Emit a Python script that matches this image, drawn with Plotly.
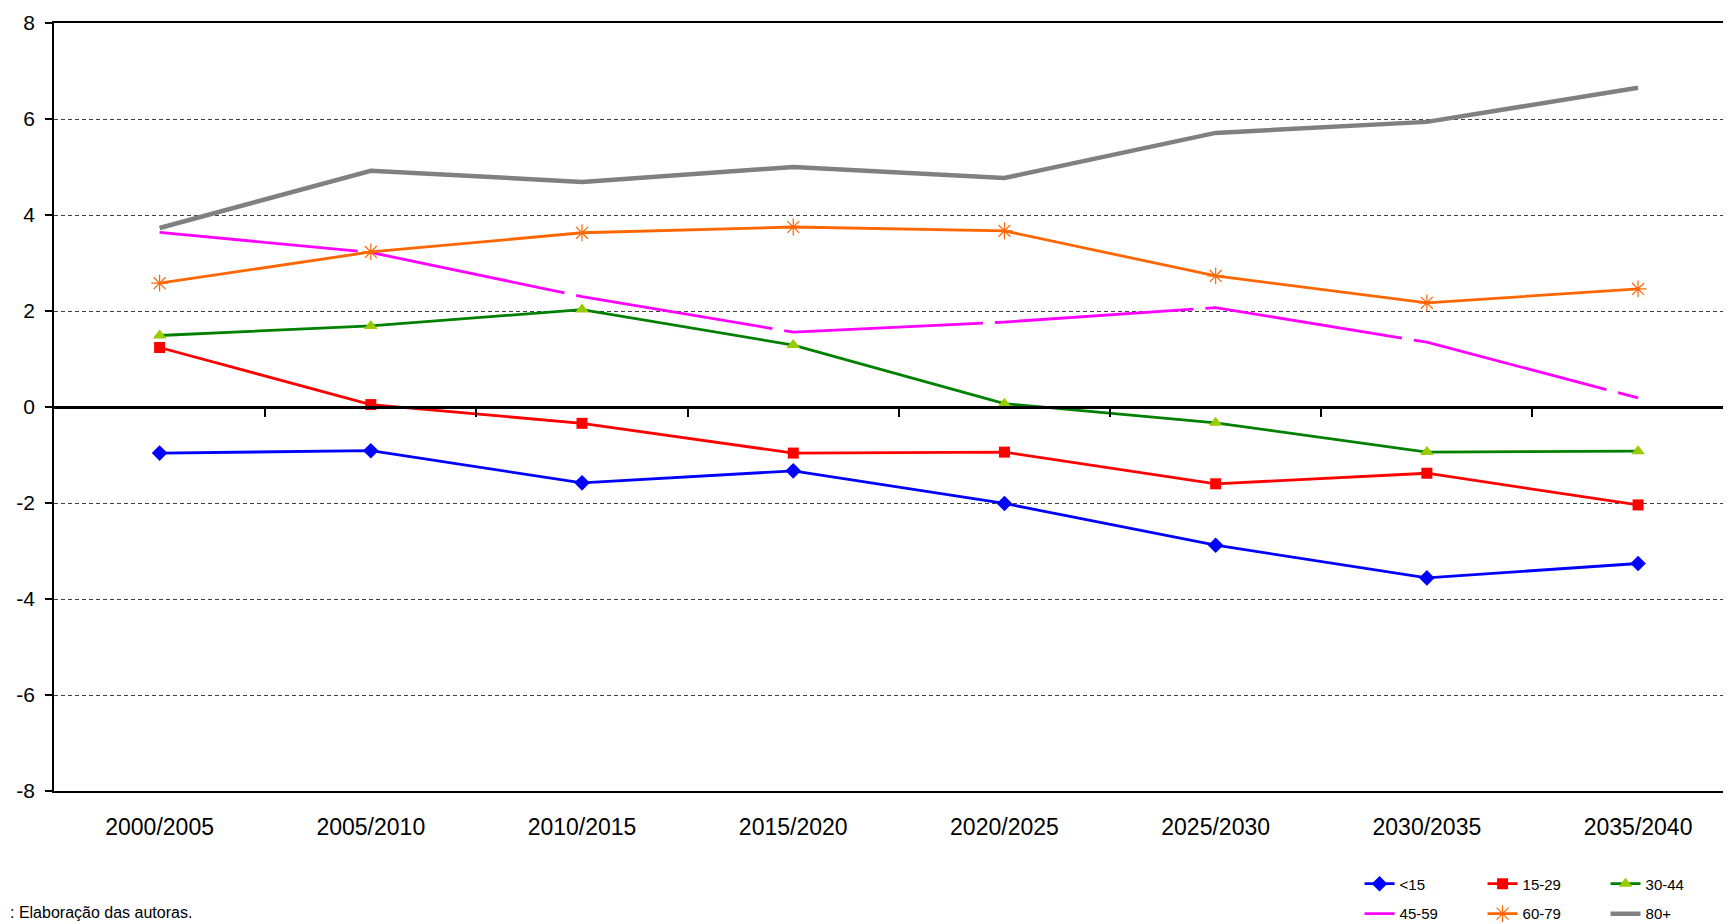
import plotly.graph_objects as go

# periods and growth rates by age group
periods = ["2000/2005", "2005/2010", "2010/2015", "2015/2020",
           "2020/2025", "2025/2030", "2030/2035", "2035/2040"]

age_under_15 = [-0.96, -0.91, -1.58, -1.33, -2.01, -2.88, -3.56, -3.26]
age_15_29 = [1.24, 0.05, -0.34, -0.96, -0.94, -1.60, -1.38, -2.04]
age_30_44 = [1.49, 1.69, 2.03, 1.29, 0.07, -0.33, -0.94, -0.92]
age_45_59 = [3.64, 3.22, 2.30, 1.56, 1.77, 2.07, 1.35, 0.19]
age_60_79 = [2.58, 3.23, 3.63, 3.75, 3.67, 2.73, 2.17, 2.46]
age_80_plus = [3.73, 4.92, 4.69, 5.00, 4.77, 5.71, 5.94, 6.65]

series_names = ["<15", "15-29", "30-44", "45-59", "60-79", "80+"]
y_ticks = [-8, -6, -4, -2, 0, 2, 4, 6, 8]
y_tick_labels = ["-8", "-6", "-4", "-2", "0", "2", "4", "6", "8"]
source_text = ": Elaboração das autoras."

FONT = "Liberation Sans, Arial, sans-serif"
# the original chart runs past the right edge of the picture
X_RANGE = [-0.5, 7.44]

fig = go.Figure()

fig.add_trace(go.Scatter(
    x=periods, y=age_under_15, name=series_names[0],
    mode="lines+markers",
    line={"color": "#0000FF", "width": 2.8},
    marker={"symbol": "diamond", "size": 12, "color": "#0000FF"},
    legend="legend"
))
fig.add_trace(go.Scatter(
    x=periods, y=age_15_29, name=series_names[1],
    mode="lines+markers",
    line={"color": "#FF0000", "width": 2.8},
    marker={"symbol": "square", "size": 11, "color": "#FF0000"},
    legend="legend"
))
fig.add_trace(go.Scatter(
    x=periods, y=age_30_44, name=series_names[2],
    mode="lines+markers",
    line={"color": "#008000", "width": 2.8},
    marker={"symbol": "triangle-up", "size": 12, "color": "#99CC00"},
    legend="legend"
))
fig.add_trace(go.Scatter(
    x=periods, y=age_45_59, name=series_names[3],
    mode="lines",
    line={"color": "#FF00FF", "width": 2.8, "dash": "199px,12px"},
    legend="legend2"
))
fig.add_trace(go.Scatter(
    x=periods, y=age_60_79, name=series_names[4],
    mode="lines+markers",
    line={"color": "#FF6600", "width": 2.8},
    marker={"symbol": "asterisk-open", "size": 14,
            "line": {"color": "#FF6600", "width": 1.2}},
    legend="legend2"
))
fig.add_trace(go.Scatter(
    x=periods, y=age_80_plus, name=series_names[5],
    mode="lines",
    line={"color": "#808080", "width": 4.5},
    legend="legend2"
))

# empty trace so the zero-line axis (x2) gets drawn
fig.add_trace(go.Scatter(
    x=[], y=[], xaxis="x2", yaxis="y",
    showlegend=False, hoverinfo="skip"
))

legend_common = {
    "orientation": "h",
    "font": {"family": FONT, "size": 15, "color": "black"},
    "bgcolor": "rgba(0,0,0,0)",
    "xanchor": "left",
    "yanchor": "middle",
    "entrywidth": 78,
    "itemwidth": 30,
    "tracegroupgap": 0,
}

# page body has an 8px margin, so the figure is a bit smaller than the window
fig.update_layout(
    width=1723,
    height=916,
    paper_bgcolor="white",
    plot_bgcolor="white",
    margin={"l": 46, "r": 0, "t": 15, "b": 133, "autoexpand": False},
    font={"family": FONT, "color": "black"},
    legend={**legend_common, "x": 0.7785, "y": -0.121},
    legend2={**legend_common, "x": 0.7785, "y": -0.160},
    xaxis={
        "type": "category",
        "range": X_RANGE,
        "showgrid": False,
        "ticks": "",
        "tickfont": {"family": FONT, "size": 23, "color": "black"},
        "ticklabelstandoff": 15,
        "showline": True,
        "linecolor": "black",
        "linewidth": 1.5,
        "mirror": True,
        "automargin": False,
    },
    xaxis2={
        "overlaying": "x",
        "anchor": "free",
        "position": 0.5,
        "side": "bottom",
        "range": X_RANGE,
        "tickvals": [0.5, 1.5, 2.5, 3.5, 4.5, 5.5, 6.5],
        "ticks": "outside",
        "ticklen": 8,
        "tickwidth": 2,
        "tickcolor": "black",
        "showticklabels": False,
        "showgrid": False,
        "zeroline": False,
        "showline": True,
        "linecolor": "black",
        "linewidth": 2.5,
        "automargin": False,
    },
    yaxis={
        "range": [-8, 8],
        "tickvals": y_ticks,
        "ticktext": y_tick_labels,
        "ticks": "outside",
        "ticklen": 7,
        "tickwidth": 1.5,
        "tickcolor": "black",
        "tickfont": {"family": FONT, "size": 21, "color": "black"},
        "ticklabelstandoff": 6,
        "showline": True,
        "linecolor": "black",
        "linewidth": 1.5,
        "showgrid": True,
        "gridcolor": "#404040",
        "gridwidth": 1.2,
        "griddash": "4px,3px",
        "zeroline": False,
        "automargin": False,
    },
    annotations=[{
        "text": source_text,
        "xref": "paper", "yref": "paper",
        "x": -0.0274, "y": -0.158,
        "xanchor": "left", "yanchor": "middle",
        "showarrow": False,
        "font": {"family": FONT, "size": 16, "color": "black"},
    }],
)

fig.write_html("out.html")
